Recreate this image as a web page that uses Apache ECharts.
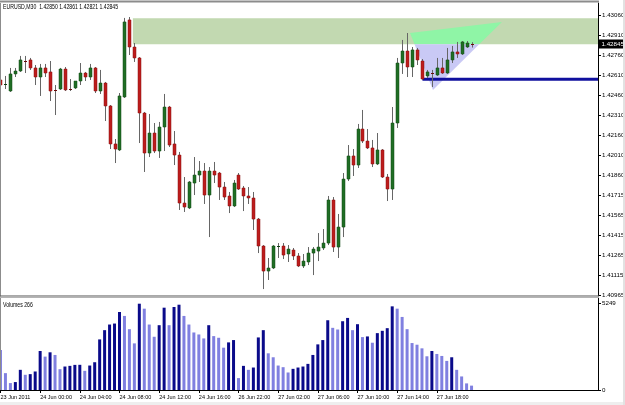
<!DOCTYPE html>
<html><head><meta charset="utf-8">
<script src="https://cdn.jsdelivr.net/npm/echarts@6/dist/echarts.min.js"></script>
<style>html,body{margin:0;padding:0;background:#fff;}#c{width:625px;height:405px;}</style>
</head><body><div id="c"></div>
<script>
// ---------------- data ----------------
const symbolName = 'EURUSD,M30';
const volumeName = 'Volumes';
const openP = [1.42578,1.42540,1.42495,1.42623,1.42645,1.42720,1.42728,1.42668,1.42600,1.42668,
1.42638,1.42503,1.42510,1.42660,1.42514,1.42518,1.42570,1.42630,1.42600,1.42668,
1.42495,1.42555,1.42383,1.42098,1.42053,1.42450,1.43028,1.42825,1.42743,1.42330,
1.42030,1.42180,1.42045,1.42225,1.42375,1.42098,1.42015,1.41655,1.41618,1.41805,
1.41865,1.41895,1.41715,1.41895,1.41880,1.41775,1.41708,1.41633,1.41865,1.41768,
1.41708,1.41693,1.41535,1.41333,1.41145,1.41168,1.41329,1.41333,1.41273,1.41303,
1.41258,1.41183,1.41213,1.41280,1.41295,1.41318,1.41355,1.41678,1.41325,1.41475,
1.41835,1.42008,1.41940,1.42210,1.42120,1.42068,1.41948,1.42053,1.41850,1.41760,
1.42255,1.42705,1.42795,1.42675,1.42803,1.42720,1.42608,1.42634,1.42615,1.42668,
1.42630,1.42728,1.42788,1.42773,1.42825,1.42850];
const highP = [1.42608,1.42608,1.42668,1.42668,1.42758,1.42758,1.42743,1.42690,1.42698,1.42698,
1.42720,1.42540,1.42668,1.42675,1.42585,1.42570,1.42705,1.42638,1.42698,1.42675,
1.42653,1.42563,1.42390,1.42135,1.42480,1.43043,1.43050,1.42855,1.42750,1.42338,
1.42323,1.42255,1.42263,1.42473,1.42383,1.42195,1.42038,1.41850,1.41820,1.42000,
1.41970,1.41955,1.41925,1.41963,1.41888,1.41813,1.41738,1.41828,1.41880,1.41783,
1.41775,1.41738,1.41543,1.41340,1.41243,1.41340,1.41355,1.41355,1.41340,1.41318,
1.41280,1.41273,1.41325,1.41325,1.41430,1.41460,1.41708,1.41700,1.41573,1.41880,
1.42090,1.42060,1.42248,1.42353,1.42210,1.42128,1.42180,1.42060,1.41873,1.42375,
1.42743,1.42878,1.42930,1.42825,1.42818,1.42735,1.42653,1.42653,1.42743,1.42743,
1.42818,1.42833,1.42863,1.42870,1.42870,1.42861];
const lowP = [1.42503,1.42510,1.42488,1.42600,1.42638,1.42630,1.42653,1.42540,1.42458,1.42600,
1.42420,1.42315,1.42503,1.42495,1.42495,1.42510,1.42540,1.42570,1.42578,1.42480,
1.42473,1.42270,1.42060,1.41955,1.42045,1.42443,1.42765,1.42713,1.42105,1.41888,
1.42000,1.42030,1.41993,1.42045,1.42075,1.41940,1.41603,1.41588,1.41610,1.41715,
1.41813,1.41648,1.41400,1.41805,1.41678,1.41678,1.41580,1.41625,1.41753,1.41595,
1.41648,1.41453,1.41280,1.41010,1.41078,1.41160,1.41243,1.41235,1.41213,1.41228,
1.41175,1.41168,1.41190,1.41115,1.41220,1.41303,1.41340,1.41288,1.41243,1.41400,
1.41820,1.41858,1.41918,1.42105,1.42060,1.41925,1.41940,1.41843,1.41670,1.41678,
1.42218,1.42623,1.42600,1.42600,1.42690,1.42578,1.42593,1.42525,1.42608,1.42623,
1.42623,1.42705,1.42743,1.42765,1.42818,1.42821];
const closeP = [1.42540,1.42548,1.42623,1.42645,1.42728,1.42716,1.42668,1.42600,1.42668,1.42630,
1.42495,1.42499,1.42660,1.42503,1.42510,1.42570,1.42630,1.42600,1.42668,1.42495,
1.42555,1.42383,1.42098,1.42060,1.42458,1.43013,1.42825,1.42743,1.42330,1.42030,
1.42180,1.42045,1.42225,1.42375,1.42090,1.42015,1.41655,1.41625,1.41813,1.41865,
1.41895,1.41715,1.41895,1.41865,1.41775,1.41700,1.41633,1.41805,1.41760,1.41708,
1.41693,1.41535,1.41333,1.41145,1.41168,1.41333,1.41333,1.41265,1.41310,1.41258,
1.41183,1.41220,1.41280,1.41310,1.41325,1.41355,1.41678,1.41325,1.41475,1.41835,
1.42008,1.41940,1.42210,1.42120,1.42068,1.41948,1.42053,1.41850,1.41760,1.42255,
1.42705,1.42795,1.42675,1.42803,1.42728,1.42585,1.42638,1.42626,1.42668,1.42630,
1.42728,1.42788,1.42773,1.42863,1.42855,1.42845];
const volumes = [2433,1026,422,483,1227,925,965,1126,2373,2031,
2293,2132,1267,1428,1468,1528,1532,1166,1488,1689,
3077,3640,3982,4042,4746,4505,3700,2836,5249,4947,
3982,3238,3942,5007,3942,5048,5188,4505,3982,3499,
3378,3137,3942,3278,3177,2574,2896,3037,724,1468,
1227,1367,3197,3640,2232,1991,1488,1388,1066,1287,
1367,1428,1589,2132,2775,3037,4243,3781,3680,4183,
4384,3640,4002,3218,3258,2876,3459,3600,3761,5088,
4947,4444,3700,2856,2755,2534,2051,2373,2192,2071,
1770,1991,1227,825,402,266];
const priceTicks = [1.43060,1.42910,1.42760,1.42610,1.42460,1.42310,1.42160,1.42010,1.41860,1.41715,1.41565,1.41415,1.41265,1.41115,1.40965];
const volumeTicks = [0, 5249];
const timeTickBars = [0,8,16,24,32,40,48,56,64,72,80,88];
const timeTickLabels = ['23 Jun 2011','24 Jun 00:00','24 Jun 04:00','24 Jun 08:00','24 Jun 12:00','24 Jun 16:00','26 Jun 22:00','27 Jun 02:00','27 Jun 06:00','27 Jun 10:00','27 Jun 14:00','27 Jun 18:00'];
// drawn objects (time in bar units, price)
const zoneStartBar = 26.7;
const zonePrices = [1.43040, 1.42845];
const triangleBars = [82.58, 101.13, 87.22];
const trianglePrices = [1.42930, 1.43013, 1.42503];
const supportStartBar = 85.1;
const supportPrice = 1.42583;
const slotCount = 121; // bars + right shift

// ---------------- chart ----------------
const FONT = '"Liberation Sans",Arial,sans-serif';
const UP = '#1f6e24', DN = '#bd1c1c', WICK = '#666666';
const VOL_UP = '#0a0a8a', VOL_DN = '#8080e0';
const last = openP.length - 1;

const candleData = openP.map((o, i) => [i, o, highP[i], lowP[i], closeP[i]]);
const volumeData = volumes.map((v, i) => ({
  value: [i, v],
  itemStyle: { color: (i > 0 && v > volumes[i - 1]) ? VOL_UP : VOL_DN }
}));
const labelOf = v => { const k = timeTickBars.indexOf(Math.round(v)); return k >= 0 ? timeTickLabels[k] : ''; };

function renderCandle(params, api) {
  const i = api.value(0), o = api.value(1), h = api.value(2), l = api.value(3), c = api.value(4);
  const po = api.coord([i, o]), pc = api.coord([i, c]), ph = api.coord([i, h]), pl = api.coord([i, l]);
  const cx = Math.round(po[0]) + 0.5;
  const bw = 3;
  const up = c >= o;
  const top = Math.min(po[1], pc[1]), bot = Math.max(po[1], pc[1]);
  const ch = [{ type: 'line', shape: { x1: cx, y1: ph[1], x2: cx, y2: pl[1] }, style: { stroke: WICK, lineWidth: 1 } }];
  if (bot - top < 1.2) {
    const yy = Math.round((top + bot) / 2) + 0.5;
    ch.push({ type: 'line', shape: { x1: cx - 1.5, y1: yy, x2: cx + 1.5, y2: yy }, style: { stroke: up ? '#0d3d10' : '#6a0a0a', lineWidth: 1 } });
  } else {
    ch.push({ type: 'rect', shape: { x: cx - bw / 2, y: top, width: bw, height: bot - top }, style: { fill: up ? UP : DN, stroke: up ? '#124a15' : '#8a1010', lineWidth: 0.5 } });
  }
  return { type: 'group', children: ch };
}

function clipHalf(pts, yCut, keepAbove) {
  const out = [];
  const inside = p => keepAbove ? p[1] <= yCut : p[1] >= yCut;
  for (let k = 0; k < pts.length; k++) {
    const a = pts[k], b = pts[(k + 1) % pts.length];
    const ia = inside(a), ib = inside(b);
    if (ia) out.push(a);
    if (ia !== ib) { const t = (yCut - a[1]) / (b[1] - a[1]); out.push([a[0] + t * (b[0] - a[0]), yCut]); }
  }
  return out;
}

function renderObjects(params, api) {
  const cs = params.coordSys;
  const right = cs.x + cs.width;
  const zTop = api.coord([zoneStartBar, zonePrices[0]]);
  const zBot = api.coord([zoneStartBar, zonePrices[1]]);
  const tri = triangleBars.map((b, k) => api.coord([b, trianglePrices[k]]));
  const inZone = clipHalf(tri, zBot[1], true);
  const below = clipHalf(tri, zBot[1], false);
  const sup = api.coord([supportStartBar, supportPrice]);
  return { type: 'group', children: [
    { type: 'rect', shape: { x: zTop[0], y: zTop[1], width: right - zTop[0], height: zBot[1] - zTop[1] }, style: { fill: '#c2d9b1' } },
    { type: 'polygon', shape: { points: inZone }, style: { fill: '#8ff5a6' } },
    { type: 'polygon', shape: { points: below }, style: { fill: '#c9c9f5' } },
    { type: 'line', shape: { x1: sup[0], y1: sup[1], x2: right, y2: sup[1] }, style: { stroke: '#10109e', lineWidth: 3 } }
  ] };
}

const chart = echarts.init(document.getElementById('c'), null, { renderer: 'canvas', width: 625, height: 405 });
const txt = (size) => ({ fontSize: size, fontWeight: 'normal', color: '#000', fontFamily: FONT });

const option = {
  animation: false,
  backgroundColor: '#ffffff',
  grid: [
    { left: -2, top: 3, width: 600, height: 293, outerBoundsMode: 'none', containLabel: false },
    { left: -2, top: 298, width: 600, height: 92, outerBoundsMode: 'none', containLabel: false }
  ],
  xAxis: [
    { type: 'value', gridIndex: 0, min: -0.5, max: slotCount - 0.5, show: false },
    { type: 'value', gridIndex: 1, min: -0.5, max: slotCount - 0.5,
      axisLine: { show: true, onZero: false, lineStyle: { color: '#000', width: 1 } },
      axisTick: { show: true, customValues: timeTickBars, length: 3, lineStyle: { color: '#000' } },
      axisLabel: { customValues: timeTickBars, formatter: labelOf, align: 'left', margin: 4, ...txt(5.5) },
      splitLine: { show: false } }
  ],
  yAxis: [
    { type: 'value', gridIndex: 0, position: 'right', min: 1.40958, max: 1.43155,
      axisLine: { show: true, onZero: false, lineStyle: { color: '#000' } },
      axisTick: { show: true, customValues: priceTicks, length: 3, lineStyle: { color: '#000' } },
      axisLabel: { customValues: priceTicks, formatter: v => v.toFixed(5), margin: 4, ...txt(6.2) },
      splitLine: { show: false } },
    { type: 'value', gridIndex: 1, position: 'right', min: 0, max: 5596,
      axisLine: { show: true, onZero: false, lineStyle: { color: '#000' } },
      axisTick: { show: true, customValues: volumeTicks, length: 3, lineStyle: { color: '#000' } },
      axisLabel: { customValues: volumeTicks, formatter: v => String(v), margin: 4, ...txt(6.2) },
      splitLine: { show: false } }
  ],
  series: [
    { type: 'custom', name: 'objects', xAxisIndex: 0, yAxisIndex: 0, clip: true, z: 1,
      data: [[0, zonePrices[0]]], encode: { x: 0, y: 1 }, renderItem: renderObjects, silent: true },
    { type: 'custom', name: 'EURUSD', xAxisIndex: 0, yAxisIndex: 0, clip: true, z: 3,
      data: candleData, encode: { x: 0, y: [1, 2, 3, 4] }, renderItem: renderCandle },
    { type: 'bar', name: 'Volumes', xAxisIndex: 1, yAxisIndex: 1, barWidth: 3, data: volumeData }
  ]
};
chart.setOption(option);

const yTag = chart.convertToPixel({ yAxisIndex: 0 }, closeP[last]);
const titleText = `${symbolName}  ${openP[last].toFixed(5)} ${highP[last].toFixed(5)} ${lowP[last].toFixed(5)} ${closeP[last].toFixed(5)}`;
chart.setOption({ graphic: [
  { type: 'rect', shape: { x: 0, y: 0.5, width: 599, height: 2 }, style: { fill: '#8c8c8c' }, z: 10 },
  { type: 'rect', shape: { x: 0, y: 3, width: 1, height: 387 }, style: { fill: '#8c8c8c' }, z: 10 },
  { type: 'rect', shape: { x: 0, y: 295.5, width: 599, height: 1 }, style: { fill: '#555555' }, z: 10 },
  { type: 'rect', shape: { x: 0, y: 296.5, width: 599, height: 1.5 }, style: { fill: '#b4b4b4' }, z: 10 },
  { type: 'rect', shape: { x: 0, y: 402, width: 625, height: 3 }, style: { fill: '#eeeeee' }, z: 10 },
  { type: 'rect', shape: { x: 623, y: 0, width: 2, height: 405 }, style: { fill: '#e2e2e2' }, z: 10 },
  { type: 'text', x: 3, y: 7, scaleX: 0.82, z: 20, style: { text: titleText, fill: '#000', font: `6.3px ${FONT}`, verticalAlign: 'middle' } },
  { type: 'text', x: 3, y: 305, scaleX: 0.82, z: 20, style: { text: `${volumeName} ${volumes[last]}`, fill: '#000', font: `6.3px ${FONT}`, verticalAlign: 'middle' } },
  { type: 'group', z: 20, children: [
    { type: 'rect', shape: { x: 599, y: Math.round(yTag) - 4.5, width: 26, height: 9 }, style: { fill: '#000' } },
    { type: 'text', x: 601.5, y: Math.round(yTag), style: { text: closeP[last].toFixed(5), fill: '#fff', font: `6.2px ${FONT}`, verticalAlign: 'middle' } }
  ] }
] });
</script></body></html>
